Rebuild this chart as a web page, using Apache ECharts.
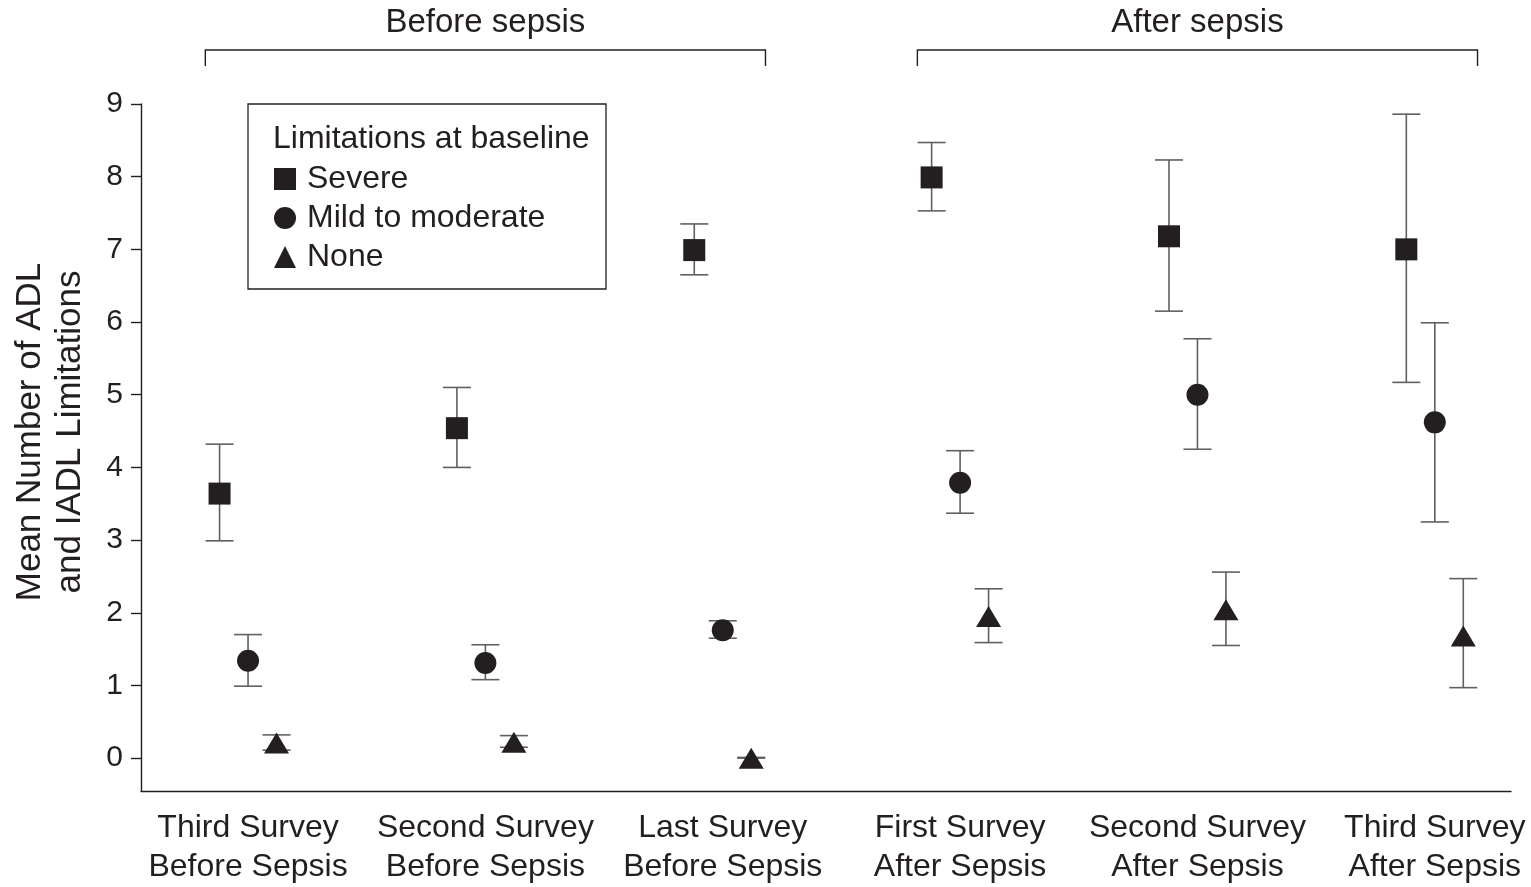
<!DOCTYPE html>
<html><head><meta charset="utf-8">
<script src="https://cdn.jsdelivr.net/npm/echarts@6/dist/echarts.min.js"></script>
<style>html,body{margin:0;padding:0;background:#fff}#c{width:1531px;height:887px}</style>
</head><body><div id="c"></div>
<script>
// ---------- data ----------
const categories = ['Third Survey\nBefore Sepsis', 'Second Survey\nBefore Sepsis', 'Last Survey\nBefore Sepsis',
                    'First Survey\nAfter Sepsis', 'Second Survey\nAfter Sepsis', 'Third Survey\nAfter Sepsis'];
const yTicks = [0, 1, 2, 3, 4, 5, 6, 7, 8, 9];
const seriesNames = ['Severe', 'Mild to moderate', 'None'];
const severeMean = [3.64, 4.54, 6.99, 7.99, 7.18, 7.00];
const severeLow  = [2.99, 4.00, 6.65, 7.53, 6.15, 5.17];
const severeHigh = [4.32, 5.10, 7.35, 8.47, 8.23, 8.86];
const mildMean = [1.34, 1.31, 1.76, 3.79, 5.00, 4.62];
const mildLow  = [0.99, 1.08, 1.65, 3.37, 4.25, 3.25];
const mildHigh = [1.70, 1.56, 1.89, 4.23, 5.77, 5.99];
const noneMean = [0.21, 0.22, 0.00, 1.95, 2.04, 1.68];
const noneLow  = [0.11, 0.15, 0.00, 1.59, 1.55, 0.97];
const noneHigh = [0.32, 0.31, 0.01, 2.33, 2.56, 2.47];
const periodLabels = ['Before sepsis', 'After sepsis'];
const periodFrom = [0, 3];
const periodTo = [2, 5];
const legendTitle = 'Limitations at baseline';
const yTitle = 'Mean Number of ADL\nand IADL Limitations';

// ---------- style / layout ----------
const FONT = '"Liberation Sans", Arial, sans-serif';
const INK = '#231f20';
const BAR = '#5f6062';
const offsets = [-0.12, 0, 0.12];
const symbols = ['rect', 'circle', 'triangle'];
const symbolSizes = [22, 22, [25, 21]];
const means = [severeMean, mildMean, noneMean];
const lows = [severeLow, mildLow, noneLow];
const highs = [severeHigh, mildHigh, noneHigh];

function errRender(params, api) {
  const x = api.value(0), lo = api.value(1), hi = api.value(2);
  const pLo = api.coord([x, lo]), pHi = api.coord([x, hi]);
  const hw = 14;
  const st = { stroke: BAR, lineWidth: 1.6 };
  return { type: 'group', children: [
    { type: 'line', shape: { x1: pLo[0], y1: pLo[1], x2: pHi[0], y2: pHi[1] }, style: st },
    { type: 'line', shape: { x1: pHi[0] - hw, y1: pHi[1], x2: pHi[0] + hw, y2: pHi[1] }, style: st },
    { type: 'line', shape: { x1: pLo[0] - hw, y1: pLo[1], x2: pLo[0] + hw, y2: pLo[1] }, style: st }
  ]};
}

const series = [];
for (let s = 0; s < 3; s++) {
  series.push({
    name: 'err' + s, type: 'custom', renderItem: errRender,
    encode: { x: 0, y: [1, 2] }, silent: true, z: 1,
    data: categories.map((c, i) => [i + offsets[s], lows[s][i], highs[s][i]])
  });
}
for (let s = 0; s < 3; s++) {
  series.push({
    name: seriesNames[s], type: 'scatter', symbol: symbols[s], symbolSize: symbolSizes[s],
    itemStyle: { color: INK, opacity: 1 }, z: 3,
    data: categories.map((c, i) => [i + offsets[s], means[s][i]])
  });
}

const chart = echarts.init(document.getElementById('c'), null, { renderer: 'canvas' });
chart.setOption({
  animation: false,
  backgroundColor: '#fff',
  textStyle: { fontFamily: FONT },
  grid: { left: 141, right: 20, top: 104, bottom: 93, containLabel: false },
  xAxis: {
    type: 'value', min: -0.451, max: 5.321,
    splitLine: { show: false },
    axisLine: { show: true, onZero: false, lineStyle: { color: INK, width: 1.4 } },
    axisTick: { show: false },
    axisLabel: {
      customValues: categories.map((c, i) => i),
      formatter: v => categories[Math.round(v)],
      fontSize: 32, lineHeight: 39, color: INK, margin: 18, fontFamily: FONT
    }
  },
  yAxis: {
    type: 'value', min: -0.452, max: 9,
    splitLine: { show: false },
    axisLine: { show: true, onZero: false, lineStyle: { color: INK, width: 1.4 } },
    axisTick: { show: true, customValues: yTicks, length: 10, lineStyle: { color: INK, width: 1.4 } },
    axisLabel: { customValues: yTicks, fontSize: 30, color: INK, margin: 18, fontFamily: FONT }
  },
  legend: {
    data: seriesNames, orient: 'vertical', left: 248, top: 104,
    padding: [59, 10, 10, 26], itemGap: 7, itemWidth: 22, itemHeight: 22,
    selectedMode: false,
    textStyle: { fontSize: 32, color: INK, fontFamily: FONT, padding: [0, 0, 0, 6] }
  },
  series: series
});

// annotations placed through the axis scales
const graphics = [
  { type: 'rect', shape: { x: 248, y: 104, width: 358, height: 185 },
    style: { fill: 'none', stroke: INK, lineWidth: 1.3 }, z: 10 },
  { type: 'text', x: 273, y: 139, style: { text: legendTitle, fill: INK, font: '32px ' + FONT, textVerticalAlign: 'middle' }, z: 10 },
  { type: 'text', x: 50, y: 432, rotation: Math.PI / 2,
    style: { text: yTitle, fill: INK, font: '35px ' + FONT, textAlign: 'center', textVerticalAlign: 'middle', lineHeight: 40 }, z: 10 }
];
for (let p = 0; p < periodLabels.length; p++) {
  const xa = chart.convertToPixel({ xAxisIndex: 0, yAxisIndex: 0 }, [periodFrom[p] - 0.18, 0])[0];
  const xb = chart.convertToPixel({ xAxisIndex: 0, yAxisIndex: 0 }, [periodTo[p] + 0.18, 0])[0];
  const yLine = 50, yTip = 66;
  graphics.push({ type: 'polyline', shape: { points: [[xa, yTip], [xa, yLine], [xb, yLine], [xb, yTip]] },
    style: { stroke: INK, lineWidth: 1.4, fill: 'none' }, z: 10 });
  graphics.push({ type: 'text', x: (xa + xb) / 2, y: 23,
    style: { text: periodLabels[p], fill: INK, font: '33px ' + FONT, textAlign: 'center', textVerticalAlign: 'middle' }, z: 10 });
}
chart.setOption({ graphic: graphics });
</script></body></html>
